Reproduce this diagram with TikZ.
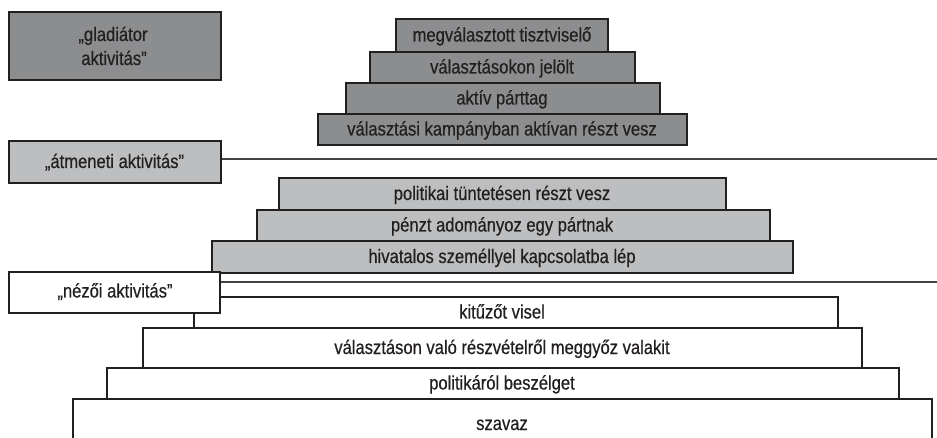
\documentclass[tikz,border=0pt]{standalone}
\usepackage{fontspec}
\setmainfont{Liberation Sans}[FakeStretch=0.85, FakeBold=0.5]
\definecolor{dkfill}{HTML}{8C8D8F}
\definecolor{ltfill}{HTML}{BCBEC0}
\definecolor{ink}{HTML}{231F20}
\tikzset{
  box/.style={draw=ink, line width=2pt, inner sep=0pt, rectangle},
  dkbox/.style={box, fill=dkfill},
  ltbox/.style={box, fill=ltfill},
  whbox/.style={box, fill=white},
  lbl/.style={anchor=base, inner sep=0pt, text=ink, font=\fontsize{19.5}{23}\selectfont},
  sep/.style={draw=ink!85, line width=2pt}
}
\begin{document}
\begin{tikzpicture}[x=1pt, y=-1pt]
\useasboundingbox (0,0) rectangle (937,438);
\clip (0,0) rectangle (937,438);
\fill[white] (0,0) rectangle (937,438);
% gladiator
\node[dkbox, minimum width=212, minimum height=68] (glad) at (115,46) {};
\node[lbl] (gladt1) at (113,41) {„gladiátor};
\node[lbl] (gladt2) at (114,65) {aktivitás”};
% top pyramid
\node[dkbox, minimum width=212, minimum height=33] (t1) at (502,35.5) {};
\node[dkbox, minimum width=265, minimum height=31] (t2) at (502.5,67.5) {};
\node[dkbox, minimum width=314, minimum height=31] (t3) at (503,98.5) {};
\node[dkbox, minimum width=369, minimum height=31] (t4) at (502.5,129.5) {};
\node[lbl] (t1t) at (502,41.5) {megválasztott tisztviselő};
\node[lbl] (t2t) at (502,73.5) {választásokon jelölt};
\node[lbl] (t3t) at (502,104.5) {aktív párttag};
\node[lbl] (t4t) at (502,135.5) {választási kampányban aktívan részt vesz};
% atmeneti
\node[ltbox, minimum width=212, minimum height=42] (atm) at (115,162) {};
\node[lbl] (atmt) at (114.5,168) {„átmeneti aktivitás”};
\coordinate (atmend) at (940,159);
\draw[sep] (atm.east |- 0,159) -- (atmend);
% middle pyramid
\node[ltbox, minimum width=447, minimum height=32] (m1) at (502.5,194) {};
\node[ltbox, minimum width=513, minimum height=31] (m2) at (513.5,225.5) {};
\node[ltbox, minimum width=581, minimum height=32] (m3) at (502.5,257) {};
\node[lbl] (m1t) at (502,200) {politikai tüntetésen részt vesz};
\node[lbl] (m2t) at (502,231.5) {pénzt adományoz egy pártnak};
\node[lbl] (m3t) at (502,263) {hivatalos személlyel kapcsolatba lép};
% bottom pyramid
\node[whbox, minimum width=859, minimum height=46] (b4) at (502.5,422) {};
\node[whbox, minimum width=792, minimum height=31] (b3) at (503,383.5) {};
\node[whbox, minimum width=719, minimum height=40] (b2) at (502.5,348) {};
\node[whbox, minimum width=644, minimum height=31] (b1) at (516,312.5) {};
\node[lbl] (b1t) at (502,318.5) {kitűzőt visel};
\node[lbl] (b2t) at (502,354) {választáson való részvételről meggyőz valakit};
\node[lbl] (b3t) at (502,389.5) {politikáról beszélget};
\node[lbl] (b4t) at (502,430) {szavaz};
% nezoi
\node[whbox, minimum width=211, minimum height=41] (nez) at (114.5,292.5) {};
\node[lbl] (nezt) at (115,297.5) {„nézői aktivitás”};
\coordinate (nezend) at (940,282.5);
\draw[sep] (nez.east |- 0,282.5) -- (nezend);
\end{tikzpicture}
\end{document}
